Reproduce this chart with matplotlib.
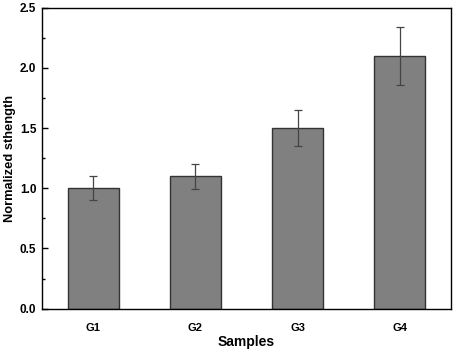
import matplotlib
matplotlib.use('Agg')
import matplotlib.pyplot as plt
from matplotlib.ticker import MultipleLocator

# Data
samples = ['G1', 'G2', 'G3', 'G4']
strength = [1.0, 1.1, 1.5, 2.1]
errors = [0.10, 0.105, 0.15, 0.24]

plt.rcParams['font.family'] = ['Liberation Sans', 'DejaVu Sans']
plt.rcParams['font.weight'] = 'bold'

fig = plt.figure(figsize=(4.54, 3.51), dpi=100)
ax = fig.add_axes([0.0925, 0.1205, 0.9005, 0.858])

x = range(len(samples))
ax.bar(x, strength, width=0.5, color='#808080', edgecolor='#333333', linewidth=1.0,
       yerr=errors, error_kw=dict(ecolor='#444444', elinewidth=0.9, capsize=2.8, capthick=0.9))

ax.set_xlim(-0.5, 3.5)
ax.set_ylim(0, 2.5)
ax.set_xticks(list(x))
ax.set_xticklabels(samples, fontsize=8, fontweight='bold')
ax.tick_params(axis='x', length=0, pad=10)
ax.yaxis.set_major_locator(MultipleLocator(0.5))
ax.yaxis.set_minor_locator(MultipleLocator(0.25))
ax.tick_params(axis='y', which='major', direction='in', length=4, width=1, labelsize=8.5, pad=4)
ax.tick_params(axis='y', which='minor', direction='in', length=2, width=1)
for lbl in ax.get_yticklabels():
    lbl.set_fontweight('bold')

for s in ax.spines.values():
    s.set_linewidth(1.0)

ax.set_xlabel('Samples', fontsize=10, fontweight='bold', labelpad=2)
ax.set_ylabel('Normalized sthength', fontsize=9.3, fontweight='bold')
ax.yaxis.set_label_coords(-0.064, 0.5)

fig.savefig('out.png', dpi=100)
